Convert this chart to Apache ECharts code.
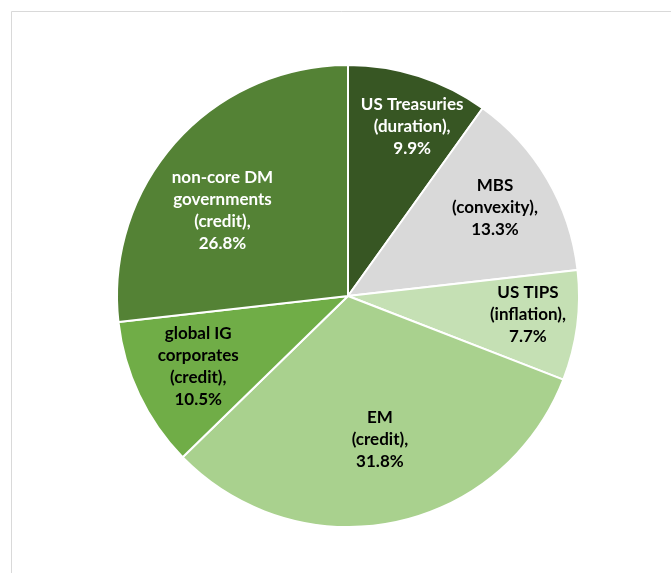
<!DOCTYPE html>
<html>
<head>
<meta charset="utf-8">
<script src="https://cdn.jsdelivr.net/npm/echarts@6/dist/echarts.min.js"></script>
<style>
html,body{margin:0;padding:0;background:#fff;}
#chart{width:671px;height:573px;}
</style>
</head>
<body>
<div id="chart"></div>
<script>
// Data
const categories = ["US Treasuries", "MBS", "US TIPS", "EM", "global IG corporates", "non-core DM governments"];
const labelNames = ["US Treasuries", "MBS", "US TIPS", "EM", "global IG\ncorporates", "non-core DM\ngovernments"];
const factors = ["duration", "convexity", "inflation", "credit", "credit", "credit"];
const shares = [9.9, 13.3, 7.7, 31.8, 10.5, 26.8];

// Styling
const colors = ["#375623", "#d9d9d9", "#c5e0b4", "#a9d18e", "#70ad47", "#548235"];
const textColors = ["#ffffff", "#000000", "#000000", "#000000", "#000000", "#ffffff"];
const labelRadiusFrac = [0.77, 0.73, 0.77, 0.625, 0.703, 0.645];
const labelAngleShift = [3.0, -0.7, -1.6, -1.0, 0.3, -7.6]; // degrees

const R = 231;
const total = shares.reduce((a, b) => a + b, 0);
let cum = 0;
const seriesData = shares.map((v, i) => {
  const mid = (cum + v / 2) / total * 360;
  cum += v;
  const defA = mid * Math.PI / 180;
  const tA = (mid + labelAngleShift[i]) * Math.PI / 180;
  const r0 = R / 2, r1 = R * labelRadiusFrac[i];
  const dx = r1 * Math.sin(tA) - r0 * Math.sin(defA);
  const dy = -r1 * Math.cos(tA) + r0 * Math.cos(defA);
  return {
    name: categories[i],
    value: v,
    itemStyle: { color: colors[i] },
    label: {
      color: textColors[i],
      offset: [dx, dy],
      formatter: labelNames[i] + "\n(" + factors[i] + "),\n" + v.toFixed(1) + "%"
    }
  };
});

const chart = echarts.init(document.getElementById('chart'), null, { renderer: 'canvas' });
chart.setOption({
  animation: false,
  backgroundColor: '#ffffff',
  graphic: [{
    type: 'rect',
    shape: { x: 11.5, y: 11.5, width: 700, height: 600 },
    style: { fill: null, stroke: '#d9d9d9', lineWidth: 1 },
    silent: true
  }],
  series: [{
    type: 'pie',
    center: [348, 296],
    radius: [0, R],
    startAngle: 90,
    clockwise: true,
    avoidLabelOverlap: false,
    itemStyle: { borderColor: '#ffffff', borderWidth: 2 },
    label: {
      show: true,
      position: 'inside',
      fontFamily: 'Lato',
      fontWeight: 'bold',
      fontSize: 17,
      lineHeight: 22,
      align: 'center'
    },
    labelLine: { show: false },
    emphasis: { disabled: true },
    data: seriesData
  }]
});
</script>
</body>
</html>
